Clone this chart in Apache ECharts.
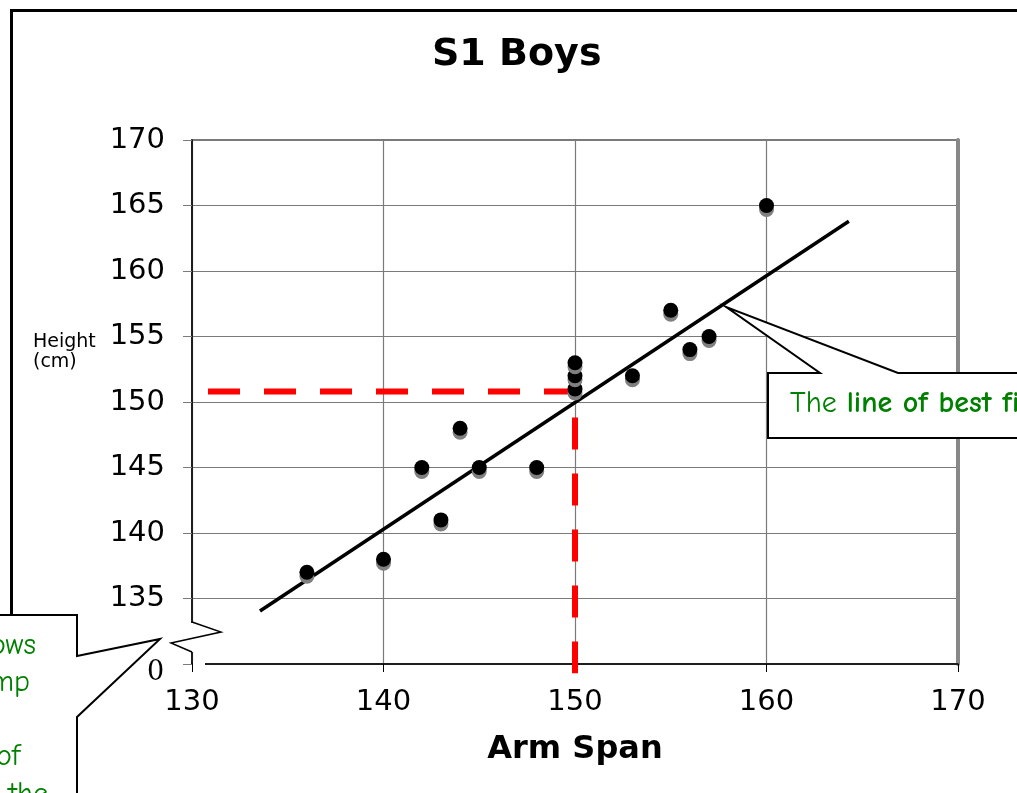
<!DOCTYPE html>
<html>
<head>
<meta charset="utf-8">
<title>S1 Boys</title>
<script src="https://cdn.jsdelivr.net/npm/echarts@6/dist/echarts.min.js"></script>
<style>
  html, body { margin: 0; padding: 0; background: #fff; }
  #chart { width: 1017px; height: 793px; }
</style>
</head>
<body>
<div id="chart"></div>
<script>
// Arm span (cm) and height (cm) of each S1 boy
const armSpan = [136, 140, 142, 143, 144, 145, 148, 150, 150, 150, 153, 155, 156, 157, 160];
const heightCm = [137, 138, 145, 141, 148, 145, 145, 151, 152, 153, 152, 157, 154, 155, 165];

// Line of best fit, drawn between its two end points
const fitLine = [[133.55, 134.05], [164.3, 163.8]];

// Reading an estimate from the line: across from the height axis, then down to arm span 150
const readAcross = [[130, 150.8], [150, 150.8]];
const readDown = [[150, 150.8], [150, 129.3]];

// Axis ranges
const xRange = { min: 130, max: 170, step: 10 };
const yRange = { min: 130, max: 170, step: 5 };

const points = armSpan.map((a, i) => [a, heightCm[i]]);

const chart = echarts.init(document.getElementById('chart'), null, { renderer: 'canvas' });

const gridColor = '#7a7a7a';
const numFont = 'DejaVu Sans, Verdana, sans-serif';
const noteFont = '"Comic Sans MS", "Comic Neue", "Noto Sans", sans-serif';
const noteGreen = '#008000';

const option = {
  animation: false,
  backgroundColor: '#fff',
  title: {
    text: 'S1 Boys',
    left: 427,
    top: 31,
    textStyle: { fontFamily: numFont, fontWeight: 'bold', fontSize: 38, color: '#000' }
  },
  grid: {
    left: 192, right: 59, top: 140, bottom: 129,
    show: true, borderColor: gridColor, borderWidth: 2, backgroundColor: '#fff'
  },
  xAxis: {
    type: 'value',
    min: xRange.min, max: xRange.max, interval: xRange.step,
    name: 'Arm Span',
    nameLocation: 'middle',
    nameGap: 70,
    nameTextStyle: { fontFamily: numFont, fontWeight: 'bold', fontSize: 32, color: '#000' },
    axisLine: { show: true, onZero: false, lineStyle: { color: '#000', width: 1.5 } },
    axisTick: { show: true, inside: false, length: 8, lineStyle: { color: '#000' } },
    axisLabel: { margin: 24, fontFamily: numFont, fontSize: 29, color: '#000' },
    splitLine: { show: true, lineStyle: { color: gridColor, width: 1.2 } }
  },
  yAxis: [{
    type: 'value',
    min: yRange.min, max: yRange.max, interval: yRange.step,
    axisLine: { show: true, onZero: false, lineStyle: { color: '#000', width: 1.5 } },
    axisTick: { show: true, inside: false, length: 9, lineStyle: { color: gridColor } },
    axisLabel: {
      margin: 27, fontFamily: numFont, fontSize: 29, color: '#000',
      formatter: v => (v === yRange.min ? '' : String(v))
    },
    splitLine: { show: true, lineStyle: { color: gridColor, width: 1.2 } }
  }, {
    type: 'value',
    position: 'right',
    min: yRange.min, max: yRange.max, interval: yRange.step,
    axisLine: { show: true, lineStyle: { color: '#888', width: 4 } },
    axisTick: { show: false },
    axisLabel: { show: false },
    splitLine: { show: false }
  }],
  series: [
    {
      name: 'readAcross',
      type: 'line',
      data: readAcross,
      symbol: 'none',
      silent: true,
      z: 3,
      lineStyle: { color: '#ff0000', width: 6, type: [32, 24], dashOffset: 40, cap: 'butt' }
    },
    {
      name: 'readDown',
      type: 'line',
      data: readDown,
      symbol: 'none',
      silent: true,
      clip: false,
      z: 3,
      lineStyle: { color: '#ff0000', width: 6, type: [32, 24], dashOffset: 30, cap: 'butt' }
    },
    {
      name: 'fit',
      type: 'line',
      data: fitLine,
      symbol: 'none',
      silent: true,
      z: 4,
      lineStyle: { color: '#000', width: 3.5 }
    },
    {
      name: 'boys',
      type: 'scatter',
      data: points,
      symbol: 'circle',
      symbolSize: 15,
      z: 5,
      itemStyle: { color: '#000', opacity: 1, shadowColor: '#808080', shadowOffsetY: 4, shadowOffsetX: 0, shadowBlur: 0 },
      emphasis: { disabled: true }
    }
  ]
};

chart.setOption(option);

// Decorations placed from the axes once they are laid out
const origin = chart.convertToPixel({ gridIndex: 0 }, [xRange.min, yRange.min]);
const ox = origin[0], oy = origin[1];
const tip = chart.convertToPixel({ gridIndex: 0 }, [157.9, 157.25]);

const noteText = (text, x, y) => ({
  type: 'text', x: x, y: y, z: 103,
  style: { text: text, textAlign: 'right', textVerticalAlign: 'bottom', fontFamily: noteFont, fontSize: 30, fill: noteGreen }
});

chart.setOption({
  graphic: [
    // outer frame
    { type: 'rect', shape: { x: 11.5, y: 10.5, width: 1200, height: 900 },
      style: { fill: null, stroke: '#000', lineWidth: 3 }, z: 100 },
    // y-axis label
    { type: 'text', left: 33, top: 332, z: 100,
      style: { text: 'Height\n(cm)', fontFamily: numFont, fontSize: 19, lineHeight: 20, fill: '#000' } },
    // break in the height axis
    { type: 'rect', shape: { x: ox - 6, y: oy - 41, width: 12, height: 29 },
      style: { fill: '#fff' }, z: 100 },
    { type: 'rect', shape: { x: ox + 1, y: oy - 3, width: 12, height: 6 },
      style: { fill: '#fff' }, z: 100 },
    { type: 'polyline', z: 101,
      shape: { points: [[ox, oy - 42], [ox + 29, oy - 32], [ox - 21, oy - 21], [ox, oy - 12]] },
      style: { fill: null, stroke: '#000', lineWidth: 1.5 } },
    { type: 'text', x: ox - 45, y: oy - 5, z: 101,
      style: { text: '0', fontFamily: 'DejaVu Serif, Liberation Serif, serif', fontSize: 27, fill: '#000' } },
    // callout for the fitted line
    { type: 'polygon', z: 102,
      shape: { points: [[768, 373], [820, 373], tip, [898, 373], [1040, 373], [1040, 438], [768, 438]] },
      style: { fill: '#fff', stroke: '#000', lineWidth: 2 } },
    { type: 'text', x: 790, y: 389, z: 103,
      style: {
        text: '{n|The }{b|line of best fit}',
        rich: {
          n: { fontFamily: noteFont, fontSize: 30, fill: noteGreen, color: noteGreen },
          b: { fontFamily: noteFont, fontSize: 30, fontWeight: 'bold', fill: noteGreen, color: noteGreen }
        }
      } },
    // callout for the axis break
    { type: 'polygon', z: 102,
      shape: { points: [[-20, 615], [77, 615], [77, 656], [ox - 32, oy - 25], [77, 717], [77, 820], [-20, 820]] },
      style: { fill: '#fff', stroke: '#000', lineWidth: 2 } },
    noteText('shows', 36, 661),
    noteText('jump', 30, 698),
    noteText('of', 20, 772),
    noteText('the', 48, 810)
  ]
});
</script>
</body>
</html>
